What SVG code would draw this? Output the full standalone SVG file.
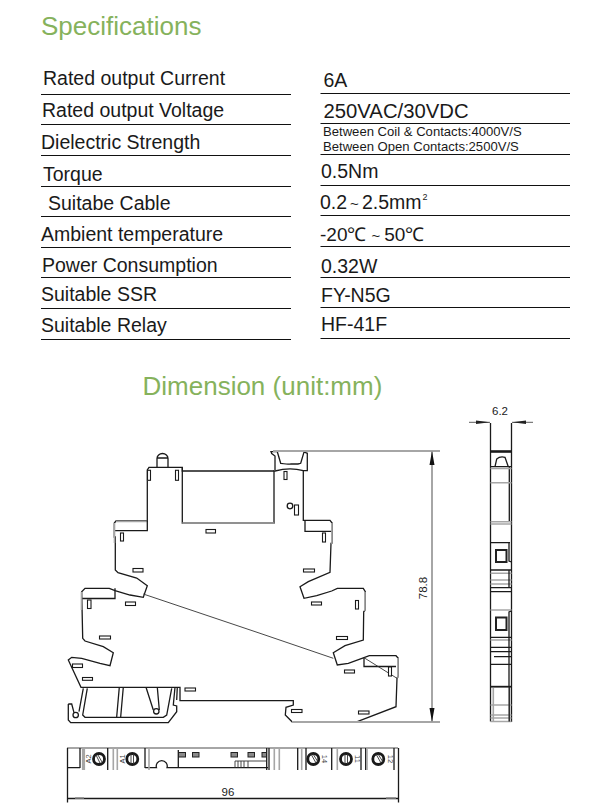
<svg xmlns="http://www.w3.org/2000/svg" width="615" height="810" viewBox="0 0 615 810">
<style>
text{font-family:"Liberation Sans",Arial,sans-serif;fill:#1a1a1a}
.h{fill:#86b25c;font-size:26px}
.t{font-size:19.5px}
.s{font-size:13.1px}
.r{stroke:#111;stroke-width:1.2;fill:none}
.k{stroke:#1a1a1a;stroke-width:1.3;fill:none}
.n{stroke:#333;stroke-width:.9;fill:none}
.g{stroke:#a6a6a6;stroke-width:1.6;fill:none}
.b{stroke:#1a1a1a;stroke-width:1.1;fill:#fff}
.dt{font-size:11.5px}
.l{font-size:7.5px;fill:#444}
.sc{stroke:#1a1a1a;stroke-width:2.8;fill:#fff}
</style>
<rect width="615" height="810" fill="#fff"/>
<g id="specifications">
<text class="h" x="41" y="35">Specifications</text>
<g class="r">
<path d="M41 94.500H291M41 124.500H291M41 155.500H291M41 186.500H291M41 216.500H291M41 247.500H291M41 277.500H291M41 308.500H291M41 339.500H291"/>
<path d="M320.500 93.500H570M320.500 123.500H570M320.500 154.500H570M320.500 185.500H570M320.500 215.500H570M320.500 246.500H570M320.500 277.500H570M320.500 307.500H570M320.500 338.500H570"/>
</g>
<text class="t" x="43" y="85">Rated output Current</text>
<text class="t" x="42" y="117">Rated output Voltage</text>
<text class="t" x="41" y="149">Dielectric Strength</text>
<text class="t" x="43" y="181">Torque</text>
<text class="t" x="48" y="210">Suitabe Cable</text>
<text class="t" x="41" y="241">Ambient temperature</text>
<text class="t" x="42" y="272">Power Consumption</text>
<text class="t" x="41" y="301">Suitable SSR</text>
<text class="t" x="41" y="332">Suitable Relay</text>
<text class="t" x="323.500" y="87">6A</text>
<text class="t" x="323.500" y="117.500" style="font-size:20.300px">250VAC/30VDC</text>
<text class="s" x="323" y="136">Between Coil &amp; Contacts:4000V/S</text>
<text class="s" x="323" y="151">Between Open Contacts:2500V/S</text>
<text class="t" x="321" y="178">0.5Nm</text>
<text class="t" x="320" y="209">0.2<tspan dx="3" font-size="15">~</tspan><tspan dx="3">2.5mm</tspan><tspan dx="1" dy="-9" font-size="9">2</tspan></text>
<text class="t" x="320" y="241" style="font-size:19px">-20℃<tspan dx="5" font-size="15">~</tspan><tspan dx="4">50℃</tspan></text>
<text class="t" x="321" y="273">0.32W</text>
<text class="t" x="321" y="302">FY-N5G</text>
<text class="t" x="321" y="331">HF-41F</text>
<text class="h" x="142.500" y="395">Dimension (unit:mm)</text>
</g>
<g id="front-view">
<path class="k" d="M275 470V456L271.700 453.500L271 451.700H277.300L280.700 463.300Q290 464.500 290.700 464H298L300.700 463.300L304 452L307.300 453.300V470.700H303.300V520.300H330L332.300 523.300V543L331 543.300L330 572.300L308.300 581.700L300 586.700L304 598.300L316.700 595.700L331.700 591L337.300 588.300H363.300L365.300 591.700V610L363.700 611.700L363.300 640L345 645.700L333.300 652.700L337.300 665L348.300 663.300L364 657.700L369.300 655.700H396L398.300 658.300V676L397 678.300L396 706.700L356 722H292.300L285.300 715L286 707.300L293.300 705V700.700H180V687.300H81L68.300 660L71.700 657.300L81.700 658.300L100 663.300L110 665.700L113.300 652.700L103.300 646.700L85 641L82.700 638.300L81.700 591.700L85 588.300H109.300L115 590.700L130 595L143.300 597.300L147.300 585.700L136.700 578L118 572.700L115.300 570V537H114.300V523L116 521H147.300V470L149 467.300H182.300V471H274"/>
<path class="k" d="M182.300 467.300V523H274V471H275Q290 467 303.300 470.700"/>
<path class="g" d="M182.300 523H274M116 521.500H147"/>
<path class="k" d="M114.500 530.700H147.300V521M305 520.300V531.300H331.500"/>
<path class="k" d="M157 467V458.500A5.500 5 0 0 1 168 458.500V467M157 458H168"/>
<path class="k" d="M115 588.300V598.500H82M364 657.700V666.500H396"/>
<path class="n" d="M143.300 594L260 633.300L333.300 658.300M364 657.700L397 678.300"/>
<path class="g" d="M147.500 471V481M114.500 523V543M81.500 592V610M332 523V544M365 592V611M398 658V678"/>
<path class="k" d="M68.300 704V720L70.700 722.700H168.300L176.700 711.700V706L173.300 705L175 687.300M68.300 704H71.700L74 712.700M83.300 688.300L79 711.700M87.300 688.300L82.700 715L85 717.300H163.300L166.700 715L171.700 688.300M119.300 687.300L116.700 716.700M123.300 687.300L120.700 716.700M146 687.300L153.300 710M157.300 687.300L159.300 710M177.300 687.300L176.700 700"/>
<circle class="k" cx="75.700" cy="715" r="2.700"/><circle class="k" cx="156.300" cy="711.300" r="2.700"/>
<g class="b">
<rect x="147.500" y="470.300" width="3" height="10"/><rect x="175.500" y="470.300" width="3" height="10"/>
<rect x="206" y="529.500" width="9.500" height="3.500"/><rect x="120.500" y="533" width="3" height="8"/>
<rect x="133" y="568.500" width="10" height="3.500"/>
<rect x="87.500" y="600" width="3.500" height="8.500"/><rect x="125.500" y="602" width="10" height="3.500"/>
<rect x="99.500" y="636" width="11" height="3"/><rect x="72.500" y="664" width="10" height="3.500"/><rect x="82.500" y="677.500" width="10" height="2.800"/>
<rect x="185" y="688" width="10.500" height="3"/>
<rect x="284" y="471.500" width="3" height="8"/><rect x="294.500" y="505" width="4" height="10"/>
<rect x="303.500" y="569" width="11" height="3"/><rect x="322.500" y="533" width="3" height="9"/>
<rect x="311.500" y="602" width="10" height="3"/><rect x="355.500" y="600.500" width="3" height="8.500"/>
<rect x="336.500" y="636.500" width="11" height="3"/><rect x="344.500" y="670" width="10" height="3"/>
<rect x="388.500" y="667" width="3" height="9"/>
<rect x="291.500" y="709.500" width="10.500" height="3"/><rect x="358.500" y="711" width="10.500" height="3"/>
</g>
<circle class="k" cx="290" cy="506" r="2.800"/>
</g>
<g id="side-view">
<path class="k" d="M490.500 423V721.500M511.500 423V722"/>
<path d="M490.500 451.500H511.500" stroke="#1a1a1a" stroke-width="2.600"/>
<path class="k" d="M495 466.700L496.700 459Q500 456 505 457.300L508.300 466.700M490.500 466.700H511.500M509.300 466.700V521.700"/>
<path class="g" d="M490.500 468.500H511.500M490.500 482.700H511.500M490.500 521.700H511.500M490.500 524H511.500M490.500 573.300H511.500M490.500 580H511.500M490.500 584H511.500M490.500 610H511.500M490.500 640H511.500M490.500 705H511.500M490.500 715H511.500M490.500 718H511.500M490.500 721.500H511.500M493.300 688V721M509.500 688V721"/>
<path class="k" d="M490.500 542.700H510M509 543V561L511.500 562M490.500 570H511.500M509 570V587.700M490.500 587.700H511.500M490.500 591.700H511.500M511.500 611L509 612V686.700M490.500 637.300H511.500M490.500 647.300H511.500M490.500 651.700H511.500M494 656.700H511.500M490.500 664.300H511.500M509.200 687V721.500"/>
<path d="M490.500 686.700H511.500" stroke="#1a1a1a" stroke-width="1.800"/>
<path d="M496 550H506.500V562H496Z" fill="none" stroke="#222" stroke-width="2"/>
<path d="M496 617.500H506.500V630H496Z" fill="none" stroke="#222" stroke-width="2"/>
<path d="M469 422.300H490M512 422.300H533" stroke="#333" stroke-width=".8"/>
<path d="M490 422.300L476 420.500V424.100ZM512 422.300L526 420.500V424.100Z" fill="#222"/>
<text class="dt" x="500" y="415" text-anchor="middle">6.2</text>
</g>
<g id="bottom-view">
<path d="M67 748H398" stroke="#a6a6a6" stroke-width="2"/>
<path class="k" d="M67.500 748V802.500M398.500 748V802.500M67 798.500H398.500"/>
<path d="M75 798H84M386 798H396" stroke="#888" stroke-width="1.500"/>
<path class="k" d="M80 748V768M107.700 748V770M145 748V768M178.300 750V767.700M266.700 748V770M269 748V770M297.700 748V770M306 748V770M331.700 748V770M361 748V770M365.700 748V770M394 748V770M67.500 767.700H80M145 767.700H156.500A5.500 5.500 0 1 1 167 767.700H268"/>
<path class="g" d="M82.700 748V770M84.300 748V770M113.300 748V770M117.300 748V770M149 748V770M274.300 748V770M279.300 748V770M301.700 748V770M337.300 748V770M367 748V770"/>
<g id="terminals">
<circle class="sc" cx="99" cy="759" r="5.500"/>
<circle class="sc" cx="132.300" cy="759" r="5.500"/>
<circle class="sc" cx="313.300" cy="759" r="5.500"/>
<circle class="sc" cx="346" cy="759" r="5.500"/>
<circle class="sc" cx="378.300" cy="759" r="5.500"/>
<path class="n" d="M96 755L100 763M98 755L102 762M131 754V764M133.500 754V764M311 754L316 763M313 754L318 762M345 754V764M347.500 754V764M376 754L381 763M378 754L383 762"/>
</g>
<g>
<text class="l" transform="translate(91 759) rotate(-90)" text-anchor="middle">A2</text>
<text class="l" transform="translate(124.500 759) rotate(-90)" text-anchor="middle">A1</text>
<text class="l" transform="translate(322 759) rotate(90)" text-anchor="middle">14</text>
<text class="l" transform="translate(355 759) rotate(90)" text-anchor="middle">11</text>
<text class="l" transform="translate(388 759) rotate(90)" text-anchor="middle">12</text>
</g>
<g fill="#8a8a8a" stroke="#222" stroke-width="1">
<rect x="178.500" y="752.500" width="7" height="4.500"/><rect x="192.500" y="752.500" width="6.500" height="4.500"/><rect x="231" y="752.500" width="6.500" height="4.500"/><rect x="248" y="752.500" width="6.500" height="4.500"/><rect x="262" y="752.500" width="4.500" height="4.500"/>
</g>
<path class="n" d="M235 767.700V761H266M238 761V767.700M241 761V767.700M244 761V767.700M248 761V767.700"/>
<text class="dt" x="228" y="795.500" text-anchor="middle">96</text>
</g>
<g id="dimensions">
<path d="M273 451H440M292 722H440M432 451V722" stroke="#a6a6a6" stroke-width="2" fill="none"/>
<path d="M432 451L429.500 465H434.500ZM432 722L429.500 708H434.500Z" fill="#111"/>
<text class="dt" transform="translate(426.500 588) rotate(-90)" text-anchor="middle">78.8</text>
</g>
</svg>
